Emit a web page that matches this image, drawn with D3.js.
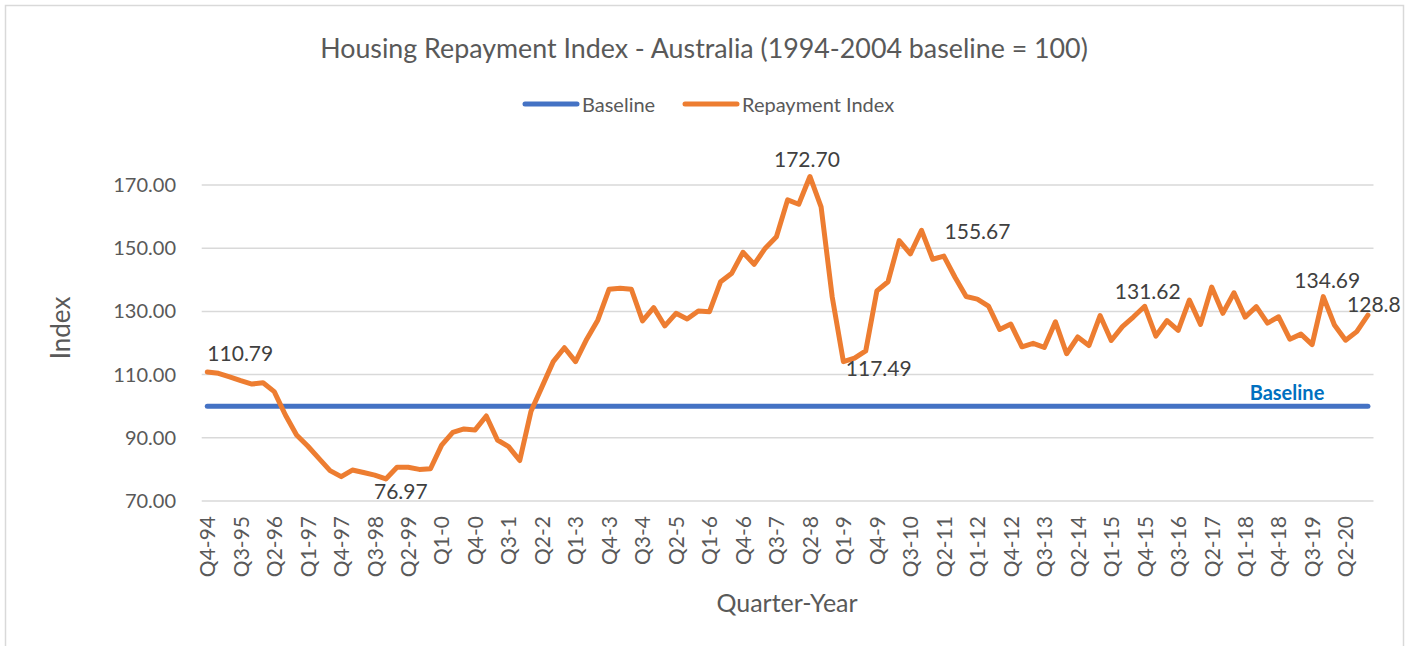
<!DOCTYPE html>
<html>
<head>
<meta charset="utf-8">
<script src="https://cdn.jsdelivr.net/npm/d3@7"></script>
<style>
  body { margin: 0; background: #fff; }
  text { font-family: Lato, "Open Sans", sans-serif; }
</style>
</head>
<body>
<div id="chart"></div>
<script>
// Quarterly index values, Q4-94 .. Q4-20
var repaymentIndex = [
  110.79, 110.4, 109.3, 108.1, 107.0, 107.4, 104.6, 97.2, 90.9, 87.4,
  83.5, 79.6, 77.7, 79.8, 79.0, 78.2, 76.97, 80.7, 80.7, 80.0,
  80.2, 87.7, 91.7, 92.8, 92.5, 96.9, 89.3, 87.2, 82.8, 98.3,
  106.2, 114.1, 118.5, 114.1, 121.2, 127.3, 137.0, 137.3, 137.0, 127.0,
  131.2, 125.4, 129.4, 127.6, 130.1, 129.9, 139.4, 142.1, 148.7, 144.9,
  150.0, 153.6, 165.3, 163.9, 172.70, 163.1, 134.5, 114.1, 115.2, 117.49,
  136.5, 139.4, 152.4, 148.2, 155.67, 146.5, 147.5, 140.8, 134.7, 133.9,
  131.7, 124.3, 126.0, 118.8, 119.9, 118.6, 126.7, 116.6, 121.9, 119.2,
  128.7, 120.8, 125.2, 128.3, 131.62, 122.2, 127.1, 124.0, 133.6, 125.9,
  137.7, 129.4, 135.9, 128.2, 131.5, 126.3, 128.3, 121.2, 122.8, 119.5,
  134.69, 125.7, 120.9, 123.6, 128.8
];
var baselineValue = 100;
var yTicks = [70, 90, 110, 130, 150, 170];

// annotated points: index into the series, label text, label offset
var callouts = [
  { i: 0,   text: "110.79", dx: 33,  dy: -11 },
  { i: 16,  text: "76.97",  dx: 15,  dy: 20 },
  { i: 54,  text: "172.70", dx: -3,  dy: -9 },
  { i: 59,  text: "117.49", dx: 13,  dy: 25 },
  { i: 64,  text: "155.67", dx: 56,  dy: 9 },
  { i: 84,  text: "131.62", dx: 3,   dy: -7 },
  { i: 100, text: "134.69", dx: 4,   dy: -9 },
  { i: 104, text: "128.8",  dx: 6,   dy: -3 }
];

// category labels like Q4-94, Q1-0, Q3-10
function quarterLabels(n, year, q){
  var out = [];
  for(var k = 0; k < n; k++){
    out.push("Q" + q + "-" + (year < 2000 ? year - 1900 : year - 2000));
    q++;
    if(q > 4){ q = 1; year++; }
  }
  return out;
}
var quarters = quarterLabels(repaymentIndex.length, 1994, 4);

var W = 1409, H = 646;
var plot = { left: 201.7, right: 1373.5, top: 185, bottom: 501 };
var FONT = "Lato, 'Open Sans', sans-serif";

var svg = d3.select("#chart").append("svg")
  .attr("width", W).attr("height", H);

// chart border
svg.append("rect")
  .attr("x", 5.5).attr("y", 5.5)
  .attr("width", 1398).attr("height", 680)
  .attr("fill", "none").attr("stroke", "#d9d9d9").attr("stroke-width", 1.5);

var x = d3.scalePoint().domain(quarters)
  .range([plot.left, plot.right]).padding(0.5);
var y = d3.scaleLinear().domain([70, 170])
  .range([plot.bottom, plot.top]);

// gridlines
svg.append("g").selectAll("line").data(yTicks).enter().append("line")
  .attr("x1", plot.left).attr("x2", plot.right)
  .attr("y1", function(d){ return y(d); })
  .attr("y2", function(d){ return y(d); })
  .attr("stroke", "#d9d9d9").attr("stroke-width", 1.5);

// y axis labels
var yAxis = d3.axisLeft(y).tickValues(yTicks).tickSize(0).tickPadding(0)
  .tickFormat(d3.format(".2f"));
var gy = svg.append("g").attr("transform", "translate(176,0)").call(yAxis);
gy.select(".domain").remove();
gy.selectAll("text").attr("font-size", 20).attr("fill", "#595959")
  .style("font-family", FONT);

// x axis labels, every third quarter
var xAxis = d3.axisBottom(x)
  .tickValues(quarters.filter(function(d, i){ return i % 3 === 0; }))
  .tickSize(0);
var gx = svg.append("g").attr("transform", "translate(0," + plot.bottom + ")").call(xAxis);
gx.select(".domain").remove();
gx.selectAll("text")
  .attr("font-size", 21).attr("fill", "#595959")
  .style("font-family", FONT)
  .attr("text-anchor", "end")
  .attr("transform", "rotate(-90)")
  .attr("x", -15).attr("y", 0).attr("dy", "0.35em");

// baseline series
var line = d3.line()
  .x(function(d, i){ return x(quarters[i]); })
  .y(function(d){ return y(d); });

svg.append("path")
  .datum(quarters.map(function(){ return baselineValue; }))
  .attr("d", line)
  .attr("fill", "none").attr("stroke", "#4472C4")
  .attr("stroke-width", 5).attr("stroke-linecap", "round");

svg.append("path")
  .datum(repaymentIndex)
  .attr("d", line)
  .attr("fill", "none").attr("stroke", "#ED7D31")
  .attr("stroke-width", 5).attr("stroke-linejoin", "round")
  .attr("stroke-linecap", "round");

// point callouts
svg.append("g").selectAll("text").data(callouts).enter().append("text")
  .attr("x", function(d){ return x(quarters[d.i]) + d.dx; })
  .attr("y", function(d){ return y(repaymentIndex[d.i]) + d.dy; })
  .attr("text-anchor", "middle")
  .attr("font-size", 21).attr("fill", "#404040")
  .text(function(d){ return d.text; });

// "Baseline" tag on the right
svg.append("text")
  .attr("x", 1287).attr("y", y(baselineValue) - 6)
  .attr("text-anchor", "middle")
  .attr("font-size", 20).attr("font-weight", "bold").attr("fill", "#0070C0")
  .text("Baseline");

// title
svg.append("text")
  .attr("x", 704).attr("y", 48).attr("dominant-baseline", "central")
  .attr("text-anchor", "middle").attr("font-size", 26.8).attr("fill", "#595959")
  .text("Housing Repayment Index - Australia (1994-2004 baseline = 100)");

// legend
var legendItems = [
  { name: "Baseline", color: "#4472C4", x: 523 },
  { name: "Repayment Index", color: "#ED7D31", x: 683 }
];
var lg = svg.append("g").selectAll("g").data(legendItems).enter().append("g")
  .attr("transform", function(d){ return "translate(" + d.x + ",104)"; });
lg.append("line")
  .attr("x1", 2).attr("x2", 54)
  .attr("stroke", function(d){ return d.color; })
  .attr("stroke-width", 5).attr("stroke-linecap", "round");
lg.append("text")
  .attr("x", 59).attr("dominant-baseline", "central")
  .attr("font-size", 20).attr("fill", "#595959")
  .text(function(d){ return d.name; });

// axis titles
svg.append("text")
  .attr("x", 787).attr("y", 602).attr("dominant-baseline", "central")
  .attr("text-anchor", "middle").attr("font-size", 25).attr("fill", "#595959")
  .text("Quarter-Year");
svg.append("text")
  .attr("transform", "translate(60,328) rotate(-90)")
  .attr("dominant-baseline", "central")
  .attr("text-anchor", "middle").attr("font-size", 26).attr("fill", "#595959")
  .text("Index");
</script>
</body>
</html>
